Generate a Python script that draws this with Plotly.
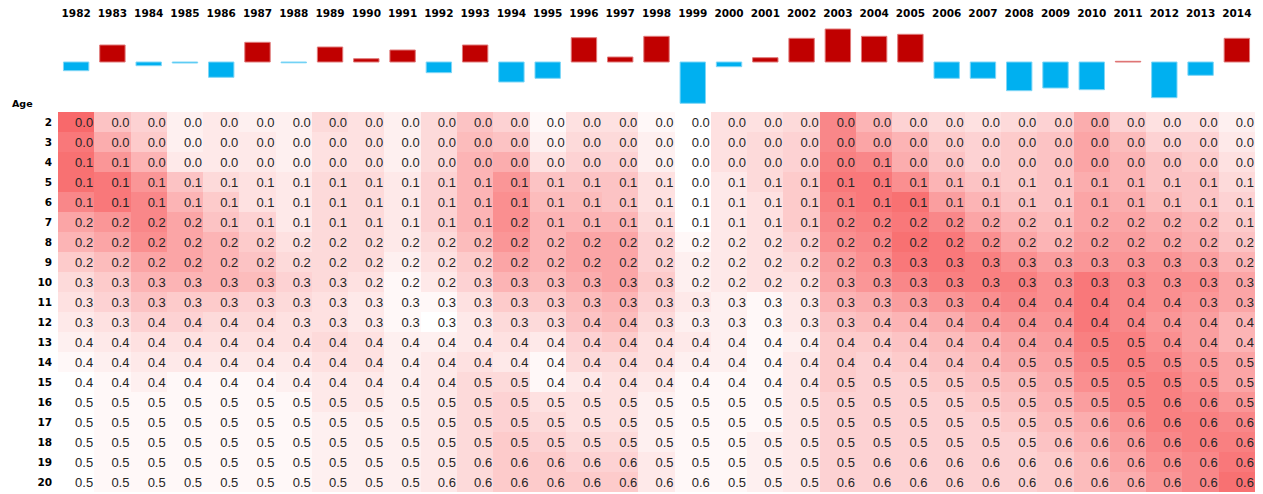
import plotly.graph_objects as go

years = list(range(1982, 2015))
ages = list(range(2, 21))

# yearly anomaly shown as bars above the table (arbitrary units)
bar_anomaly = [-0.087, 0.17, -0.037, -0.01, -0.153, 0.197, -0.008, 0.15, 0.033, 0.12,
               -0.107, 0.17, -0.20, -0.163, 0.243, 0.05, 0.257, -0.413, -0.047, 0.043,
               0.237, 0.33, 0.257, 0.277, -0.163, -0.163, -0.287, -0.26, -0.277, 0.007,
               -0.357, -0.133, 0.237]

# displayed cell values (rows = ages 2..20, columns = 1982..2014)
cell_values = [
    [0.0, 0.0, 0.0, 0.0, 0.0, 0.0, 0.0, 0.0, 0.0, 0.0, 0.0, 0.0, 0.0, 0.0, 0.0, 0.0, 0.0, 0.0, 0.0, 0.0, 0.0, 0.0, 0.0, 0.0, 0.0, 0.0, 0.0, 0.0, 0.0, 0.0, 0.0, 0.0, 0.0],
    [0.0, 0.0, 0.0, 0.0, 0.0, 0.0, 0.0, 0.0, 0.0, 0.0, 0.0, 0.0, 0.0, 0.0, 0.0, 0.0, 0.0, 0.0, 0.0, 0.0, 0.0, 0.0, 0.0, 0.0, 0.0, 0.0, 0.0, 0.0, 0.0, 0.0, 0.0, 0.0, 0.0],
    [0.1, 0.1, 0.0, 0.0, 0.0, 0.0, 0.0, 0.0, 0.0, 0.0, 0.0, 0.0, 0.0, 0.0, 0.0, 0.0, 0.0, 0.0, 0.0, 0.0, 0.0, 0.0, 0.1, 0.0, 0.0, 0.0, 0.0, 0.0, 0.0, 0.0, 0.0, 0.0, 0.0],
    [0.1, 0.1, 0.1, 0.1, 0.1, 0.1, 0.1, 0.1, 0.1, 0.1, 0.1, 0.1, 0.1, 0.1, 0.1, 0.1, 0.1, 0.0, 0.1, 0.1, 0.1, 0.1, 0.1, 0.1, 0.1, 0.1, 0.1, 0.1, 0.1, 0.1, 0.1, 0.1, 0.1],
    [0.1, 0.1, 0.1, 0.1, 0.1, 0.1, 0.1, 0.1, 0.1, 0.1, 0.1, 0.1, 0.1, 0.1, 0.1, 0.1, 0.1, 0.1, 0.1, 0.1, 0.1, 0.1, 0.1, 0.1, 0.1, 0.1, 0.1, 0.1, 0.1, 0.1, 0.1, 0.1, 0.1],
    [0.2, 0.2, 0.2, 0.2, 0.1, 0.1, 0.1, 0.1, 0.1, 0.1, 0.1, 0.1, 0.2, 0.1, 0.1, 0.1, 0.1, 0.1, 0.1, 0.1, 0.1, 0.2, 0.2, 0.2, 0.2, 0.2, 0.2, 0.1, 0.2, 0.2, 0.2, 0.2, 0.1],
    [0.2, 0.2, 0.2, 0.2, 0.2, 0.2, 0.2, 0.2, 0.2, 0.2, 0.2, 0.2, 0.2, 0.2, 0.2, 0.2, 0.2, 0.2, 0.2, 0.2, 0.2, 0.2, 0.2, 0.2, 0.2, 0.2, 0.2, 0.2, 0.2, 0.2, 0.2, 0.2, 0.2],
    [0.2, 0.2, 0.2, 0.2, 0.2, 0.2, 0.2, 0.2, 0.2, 0.2, 0.2, 0.2, 0.2, 0.2, 0.2, 0.2, 0.2, 0.2, 0.2, 0.2, 0.2, 0.2, 0.3, 0.3, 0.3, 0.3, 0.3, 0.3, 0.3, 0.3, 0.3, 0.3, 0.2],
    [0.3, 0.3, 0.3, 0.3, 0.3, 0.3, 0.3, 0.3, 0.2, 0.2, 0.2, 0.3, 0.3, 0.3, 0.3, 0.3, 0.3, 0.2, 0.2, 0.2, 0.2, 0.3, 0.3, 0.3, 0.3, 0.3, 0.3, 0.3, 0.3, 0.3, 0.3, 0.3, 0.3],
    [0.3, 0.3, 0.3, 0.3, 0.3, 0.3, 0.3, 0.3, 0.3, 0.3, 0.3, 0.3, 0.3, 0.3, 0.3, 0.3, 0.3, 0.3, 0.3, 0.3, 0.3, 0.3, 0.3, 0.3, 0.3, 0.4, 0.4, 0.4, 0.4, 0.4, 0.4, 0.3, 0.3],
    [0.3, 0.3, 0.4, 0.4, 0.4, 0.4, 0.3, 0.3, 0.3, 0.3, 0.3, 0.3, 0.3, 0.3, 0.4, 0.4, 0.3, 0.3, 0.3, 0.3, 0.3, 0.3, 0.4, 0.4, 0.4, 0.4, 0.4, 0.4, 0.4, 0.4, 0.4, 0.4, 0.4],
    [0.4, 0.4, 0.4, 0.4, 0.4, 0.4, 0.4, 0.4, 0.4, 0.4, 0.4, 0.4, 0.4, 0.4, 0.4, 0.4, 0.4, 0.4, 0.4, 0.4, 0.4, 0.4, 0.4, 0.4, 0.4, 0.4, 0.4, 0.4, 0.5, 0.5, 0.4, 0.4, 0.4],
    [0.4, 0.4, 0.4, 0.4, 0.4, 0.4, 0.4, 0.4, 0.4, 0.4, 0.4, 0.4, 0.4, 0.4, 0.4, 0.4, 0.4, 0.4, 0.4, 0.4, 0.4, 0.4, 0.4, 0.4, 0.4, 0.4, 0.5, 0.5, 0.5, 0.5, 0.5, 0.5, 0.5],
    [0.4, 0.4, 0.4, 0.4, 0.4, 0.4, 0.4, 0.4, 0.4, 0.4, 0.4, 0.5, 0.5, 0.4, 0.4, 0.4, 0.4, 0.4, 0.4, 0.4, 0.4, 0.5, 0.5, 0.5, 0.5, 0.5, 0.5, 0.5, 0.5, 0.5, 0.5, 0.5, 0.5],
    [0.5, 0.5, 0.5, 0.5, 0.5, 0.5, 0.5, 0.5, 0.5, 0.5, 0.5, 0.5, 0.5, 0.5, 0.5, 0.5, 0.5, 0.5, 0.5, 0.5, 0.5, 0.5, 0.5, 0.5, 0.5, 0.5, 0.5, 0.5, 0.5, 0.5, 0.6, 0.6, 0.5],
    [0.5, 0.5, 0.5, 0.5, 0.5, 0.5, 0.5, 0.5, 0.5, 0.5, 0.5, 0.5, 0.5, 0.5, 0.5, 0.5, 0.5, 0.5, 0.5, 0.5, 0.5, 0.5, 0.5, 0.5, 0.5, 0.5, 0.5, 0.5, 0.6, 0.6, 0.6, 0.6, 0.6],
    [0.5, 0.5, 0.5, 0.5, 0.5, 0.5, 0.5, 0.5, 0.5, 0.5, 0.5, 0.5, 0.5, 0.5, 0.5, 0.5, 0.5, 0.5, 0.5, 0.5, 0.5, 0.5, 0.5, 0.5, 0.5, 0.5, 0.5, 0.6, 0.6, 0.6, 0.6, 0.6, 0.6],
    [0.5, 0.5, 0.5, 0.5, 0.5, 0.5, 0.5, 0.5, 0.5, 0.5, 0.5, 0.6, 0.6, 0.6, 0.6, 0.6, 0.5, 0.5, 0.5, 0.5, 0.5, 0.5, 0.6, 0.6, 0.6, 0.6, 0.6, 0.6, 0.6, 0.6, 0.6, 0.6, 0.6],
    [0.5, 0.5, 0.5, 0.5, 0.5, 0.5, 0.5, 0.5, 0.5, 0.5, 0.6, 0.6, 0.6, 0.6, 0.6, 0.6, 0.6, 0.6, 0.5, 0.5, 0.5, 0.6, 0.6, 0.6, 0.6, 0.6, 0.6, 0.6, 0.6, 0.6, 0.6, 0.6, 0.6],
]

# row-relative colour intensity of each cell (0 = white, 10 = full red)
cell_shade = [
    [10, 4, 3, 1, 1.5, 1, 1, 2.5, 2, 1, 2.5, 4, 3, 0.5, 2, 2, 0.5, 0, 2, 2, 2.5, 8, 5, 3, 2.5, 2, 2.5, 3, 5.5, 3, 2, 2, 1],
    [9, 5.5, 3.5, 1, 1.5, 1.5, 1, 2, 2, 1, 2.5, 4.5, 4, 1, 2.5, 2.5, 1, 0, 2, 2.5, 3, 8, 6, 5, 3.5, 3, 3.5, 4, 6, 4.5, 3, 3, 1.5],
    [9.5, 7, 5, 1.5, 1.5, 1.5, 1, 2, 2, 1, 2.5, 5, 5.5, 2, 3, 3, 1, 0, 2, 2.5, 3, 8.5, 8, 5.5, 4, 3, 3.5, 4, 6, 5, 4, 3.5, 2],
    [9.5, 9, 7, 4, 2.5, 2, 1.5, 2.5, 2.5, 1.5, 3, 5, 7, 4, 4, 4, 2, 0, 1.5, 2.5, 3.5, 9, 9, 7.5, 5, 4, 3.5, 4, 5.5, 5, 4, 4, 2.5],
    [8, 9, 8, 5, 3.5, 2, 1.5, 2.5, 2.5, 1.5, 3, 5, 7.5, 4.5, 4.5, 4, 2, 0, 1.5, 2, 3.5, 8.5, 9, 9.5, 6.5, 5, 4, 4, 6, 5.5, 4.5, 4, 3],
    [6, 7, 8, 6, 4, 3, 1.5, 2.5, 2.5, 1.5, 3, 5, 7.5, 5, 5, 5, 2.5, 0, 1.5, 2, 3.5, 8, 8.5, 9, 8, 6, 5, 4.5, 6, 6, 5.5, 5, 3.5],
    [5, 6, 7.5, 6, 5, 3.5, 2, 2.5, 2.5, 1.5, 2.5, 4.5, 7, 5, 6, 6, 3, 0.5, 1.5, 2, 3, 7.5, 8, 9.5, 9, 7.5, 6, 5, 6.5, 6.5, 6, 5.5, 4],
    [3.5, 4.5, 6, 6, 5, 4, 2.5, 2.5, 2.5, 1, 2, 3.5, 6, 5, 6, 6, 3, 1, 1.5, 2, 2.5, 6.5, 7.5, 9, 9, 8.5, 7.5, 6.5, 7, 7, 7, 6.5, 5],
    [2.5, 3.5, 5, 5, 5, 4.5, 3, 2.5, 2, 0.5, 1.5, 3, 5, 4.5, 5.5, 6, 3.5, 1, 1.5, 2, 2, 6, 7, 8, 8.5, 8.5, 8.5, 7.5, 9, 8, 7.5, 7.5, 6],
    [2, 3, 4, 3.5, 3.5, 3, 2.5, 2, 1.5, 0.5, 0.5, 2, 3.5, 3.5, 4.5, 5, 3, 1.5, 1, 0.5, 1.5, 5, 5.5, 6.5, 7, 7.5, 8, 7.5, 9, 8, 7.5, 7, 6],
    [1.5, 2, 3, 3, 2.5, 2.5, 2, 2, 1.5, 0.5, 0, 1.5, 2.5, 2.5, 4, 4.5, 2.5, 1, 1, 0.5, 1.5, 4, 4.5, 5, 5.5, 6.5, 7, 7, 9, 8, 7, 6.5, 5],
    [1, 1.5, 2, 2, 2, 2, 2, 2.5, 2, 1, 1, 1.5, 2, 1.5, 3, 3.5, 2, 1.5, 1, 0.5, 1, 3.5, 3.5, 4, 4.5, 5, 6, 6.5, 8.5, 8.5, 7.5, 6.5, 5],
    [0.5, 1, 1.5, 1.5, 1.5, 1.5, 1.5, 2, 2, 1, 1.5, 2, 1.5, 0.5, 2.5, 2.5, 2, 1, 1, 0.5, 1.5, 3.5, 3, 3.5, 4, 4.5, 5.5, 6, 8, 8.5, 8, 7, 6],
    [0, 0.5, 1, 0.5, 0.5, 0.5, 1, 1.5, 1.5, 1, 1.5, 2.5, 2.5, 0.5, 1.5, 2, 1.5, 0.5, 0.5, 0.5, 1.5, 3.5, 3, 3, 3.5, 4, 4.5, 5.5, 7.5, 8, 8.5, 7.5, 6],
    [0, 0.5, 0.5, 0.5, 0.5, 0.5, 0.5, 1.5, 1.5, 1, 1.5, 2.5, 3, 2, 2, 2, 1, 0.5, 0.5, 0.5, 1.5, 3, 3, 3, 3, 3.5, 4, 5, 6.5, 8, 8.5, 8, 7],
    [0, 0.5, 0.5, 0.5, 0.5, 0.5, 0.5, 1, 1, 1, 1.5, 2.5, 3, 2.5, 2, 2, 1, 0.5, 0.5, 0.5, 1.5, 3, 3, 3, 3, 3, 3.5, 4.5, 5.5, 7, 8.5, 8.5, 8],
    [0, 0.5, 0.5, 0.5, 0.5, 0.5, 0.5, 1, 1, 1, 1.5, 2.5, 3.5, 3, 2.5, 2.5, 1, 0.5, 0.5, 1, 1.5, 3, 3, 3, 3, 3, 3, 4, 5, 6.5, 8, 8.5, 8.5],
    [0, 0.5, 0.5, 0.5, 0.5, 0.5, 0.5, 1, 1, 1, 1.5, 2.5, 3.5, 3.5, 3, 3, 1.5, 0.5, 0.5, 1, 1.5, 3, 3, 3, 3, 3, 3, 3.5, 4.5, 6, 7.5, 8, 9],
    [0, 0.5, 0.5, 0.5, 0.5, 0.5, 0.5, 1, 1, 1, 1.5, 2.5, 3.5, 3.5, 3.5, 3.5, 1.5, 0.5, 0.5, 1, 1.5, 3, 3, 3, 3, 3, 3, 3.5, 4.5, 5.5, 7, 8, 9.5],
]

W, H = 1263, 494
x_dom = [58 / W, 1255 / W]
heat_dom = [2 / H, 382 / H]
bar_dom = [388 / H, 474 / H]

fig = go.Figure()

fig.add_trace(go.Heatmap(
    x=years, y=ages, z=cell_shade,
    colorscale=[[0, "#FFFFFF"], [1, "#F8696B"]],
    zmin=0, zmax=10, showscale=False, xgap=0, ygap=0,
    hoverinfo="skip", xaxis="x", yaxis="y",
))

# right-aligned numbers inside cells (sitting slightly low, as in a spreadsheet)
tx, ty, tt = [], [], []
for r, age in enumerate(ages):
    for c, yr in enumerate(years):
        tx.append(yr + 0.47)
        ty.append(age + 0.1)
        tt.append(f"{cell_values[r][c]:.1f}")
fig.add_trace(go.Scatter(
    x=tx, y=ty, text=tt, mode="text", textposition="middle left",
    textfont=dict(family="Liberation Sans", size=13, color="#262626"),
    hoverinfo="skip", showlegend=False, xaxis="x", yaxis="y",
))

bar_colors = ["#C00000" if v >= 0 else "#00B0F0" for v in bar_anomaly]
bar_edges = ["#E07A7A" if v >= 0 else "#7FD6F6" for v in bar_anomaly]
fig.add_trace(go.Bar(
    x=years, y=bar_anomaly, marker=dict(color=bar_colors, line=dict(width=1, color=bar_edges)),
    width=0.7, xaxis="x2", yaxis="y2", showlegend=False, hoverinfo="skip",
))

fig.update_layout(
    width=W, height=H,
    margin=dict(l=0, r=0, t=0, b=0),
    paper_bgcolor="white", plot_bgcolor="white",
    showlegend=False,
    xaxis=dict(domain=x_dom, range=[1981.5, 2014.5], showticklabels=False,
               showgrid=False, zeroline=False, anchor="y"),
    yaxis=dict(domain=heat_dom, range=[20.5, 1.5], tickmode="array", tickvals=ages,
               ticktext=[str(a) for a in ages], showgrid=False, zeroline=False,
               ticks="", ticklabelstandoff=5,
               tickfont=dict(family="DejaVu Sans", size=10.5, color="#000000", weight="bold"),
               anchor="x"),
    xaxis2=dict(domain=x_dom, range=[1981.5, 2014.5], tickmode="array", tickvals=years,
                ticktext=[str(y) for y in years], side="top", anchor="free",
                position=(H - 19) / H, showgrid=False, zeroline=False, ticks="",
                tickfont=dict(family="DejaVu Sans", size=10.5, color="#000000", weight="bold")),
    yaxis2=dict(domain=bar_dom, range=[-0.44, 0.42], visible=False, anchor="x2"),
    annotations=[dict(text="Age", xref="paper", yref="paper", x=10 / W, y=(H - 103) / H,
                      xanchor="left", yanchor="middle", showarrow=False,
                      font=dict(family="DejaVu Sans", size=9.5, color="#000000", weight="bold"))],
)

fig.write_html(
    "out.html",
    config={"displayModeBar": False},
    post_script="document.body.style.margin='0px';document.body.style.overflow='hidden';",
)
